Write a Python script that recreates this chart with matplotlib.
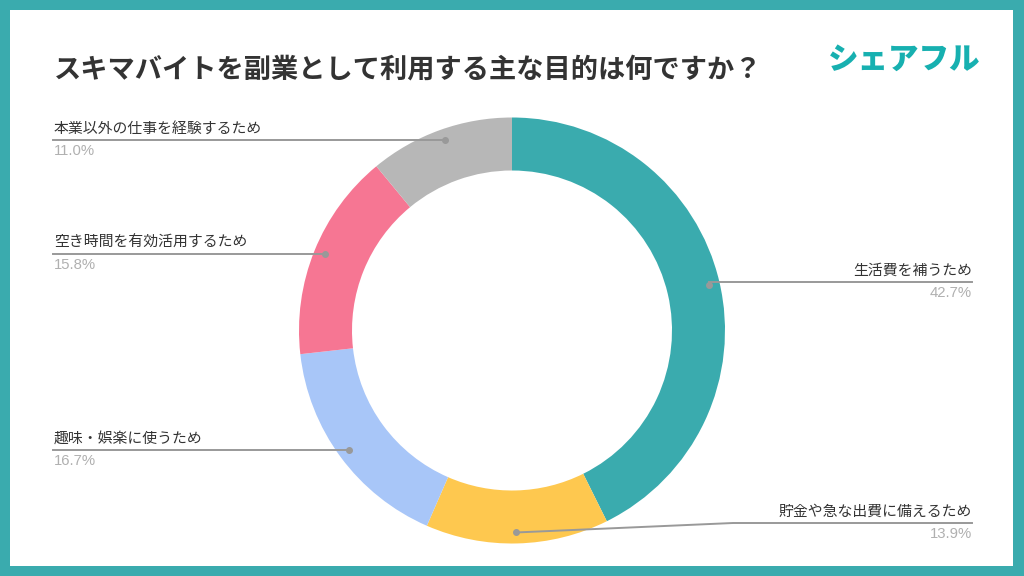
import numpy as np
import matplotlib
matplotlib.use('Agg')
import matplotlib.pyplot as plt
from matplotlib.patches import Rectangle

plt.rcParams['font.family'] = ['Noto Sans CJK JP', 'DejaVu Sans']

title = 'スキマバイトを副業として利用する主な目的は何ですか？'
labels = ['生活費を補うため', '貯金や急な出費に備えるため', '趣味・娯楽に使うため',
          '空き時間を有効活用するため', '本業以外の仕事を経験するため']
values = [42.7, 13.9, 16.7, 15.8, 11.0]
colors = ['#3aabae', '#fec84f', '#a8c6f8', '#f67693', '#b7b7b7']

W, H = 1024, 576
cx, cy = 512, 330.5     # pixel coords, y measured from top
r_out, r_in = 213, 160
r_dot = 202

fig = plt.figure(figsize=(W / 100, H / 100), dpi=100)
fig.set_facecolor('#3aabae')
ax = fig.add_axes([0, 0, 1, 1])

# white card inside teal frame
ax.add_patch(Rectangle((10, 10), W - 21, H - 20, facecolor='white', edgecolor='none', zorder=0))

def yy(y):
    return H - y

wedges, _ = ax.pie(values, colors=colors, startangle=90, counterclock=False,
                   center=(cx, yy(cy)), radius=r_out, frame=True,
                   wedgeprops=dict(width=r_out - r_in, linewidth=0))
ax.set_xlim(0, W)
ax.set_ylim(0, H)
ax.set_aspect('auto')
ax.axis('off')

ax.text(54, yy(70), title, fontsize=19.6, fontweight='bold', color='#333333',
        ha='left', va='center')
ax.text(980, yy(59), 'シェアフル', fontsize=22, fontweight='black', color='#17b0b0',
        ha='right', va='center')

line_c = '#999999'
left_x, right_x = 53, 972
cum = np.cumsum([0] + values[:-1])
for i, (lab, v) in enumerate(zip(labels, values)):
    mid = cum[i] + v / 2
    ang = np.deg2rad(90 - mid * 3.6)
    dx = cx + r_dot * np.cos(ang)
    dy = cy - r_dot * np.sin(ang)
    if dx > cx:
        # right side labels
        if dy > 480:
            ly = 523
            xs = [dx, 733, right_x]
            ys = [dy, ly, ly]
        else:
            ly = dy - 3
            xs = [dx, right_x]
            ys = [ly, ly]
        tx, ha = right_x, 'right'
    else:
        ly = dy
        xs = [dx, left_x]
        ys = [ly, ly]
        tx, ha = left_x + 1, 'left'
    ax.plot(xs, [yy(y) for y in ys], color=line_c, lw=1.4, zorder=3)
    ax.plot([dx], [yy(dy)], 'o', color=line_c, ms=4, zorder=4)
    ax.text(tx, yy(ly - 11), lab, fontsize=10.7, color='#333333', ha=ha, va='center')
    ax.text(tx, yy(ly + 11), '%.1f%%' % v, fontsize=10.7, color='#b0b0b0', ha=ha,
            va='center', family=['Liberation Sans', 'DejaVu Sans'])

fig.savefig('out.png', dpi=100, facecolor=fig.get_facecolor())
